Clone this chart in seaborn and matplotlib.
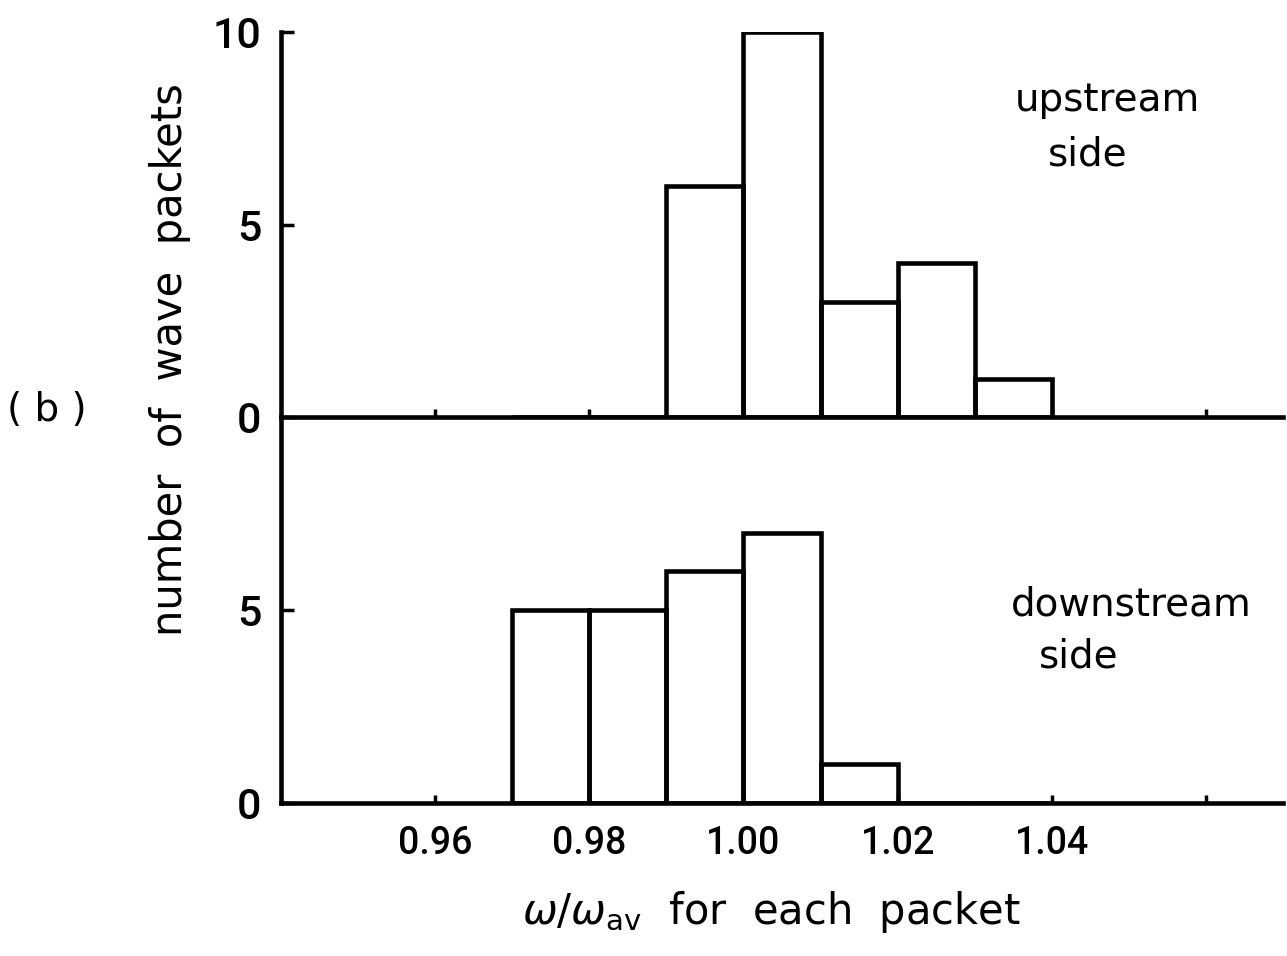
import numpy as np
import seaborn as sns
import matplotlib
matplotlib.use('Agg')
from matplotlib import pyplot as plt

# bin edges shared by both histograms (omega / omega_av)
bin_edges = [0.97, 0.98, 0.99, 1.00, 1.01, 1.02, 1.03, 1.04]
bin_centers = [0.975, 0.985, 0.995, 1.005, 1.015, 1.025, 1.035]

# number of wave packets per bin
upstream_counts = [0, 0, 6, 10, 3, 4, 1]
downstream_counts = [5, 5, 6, 7, 1, 0, 0]

x_ticks = [0.96, 0.98, 1.00, 1.02, 1.04, 1.06]
x_tick_labels = ['0.96', '0.98', '1.00', '1.02', '1.04', '']

sns.set_style('ticks')
plt.rcParams['font.family'] = ['DejaVu Sans']
plt.rcParams['mathtext.fontset'] = 'dejavusans'
plt.rcParams['text.color'] = 'black'
plt.rcParams['xtick.color'] = 'black'
plt.rcParams['ytick.color'] = 'black'
plt.rcParams['xtick.labelcolor'] = 'black'
plt.rcParams['ytick.labelcolor'] = 'black'

fig = plt.figure(figsize=(12.87, 9.56), dpi=100)
ax_up = fig.add_axes([0.2183, 0.5638, 0.7787, 0.4027])
ax_down = fig.add_axes([0.2183, 0.1600, 0.7787, 0.4038])

lw = 3.3
for ax, counts in [(ax_up, upstream_counts), (ax_down, downstream_counts)]:
    sns.histplot(x=bin_centers, weights=counts, bins=bin_edges, ax=ax,
                 fill=False, color='black', linewidth=lw, element='bars')
    ax.set_xlim(0.94, 1.07)
    ax.set_ylim(0, 10)
    ax.set_xticks(x_ticks)
    ax.set_ylabel('')
    ax.set_xlabel('')
    for side in ['top', 'right']:
        ax.spines[side].set_visible(False)
    for side in ['left', 'bottom']:
        ax.spines[side].set_linewidth(lw)
        ax.spines[side].set_color('black')
    ax.tick_params(axis='y', direction='in', length=9, width=2.5, pad=14,
                   labelsize=31, labelfontfamily='Roboto')
    ax.tick_params(axis='x', direction='in', length=6, width=2.5, pad=16,
                   labelsize=27, labelfontfamily='Roboto')
    for lab in ax.get_xticklabels() + ax.get_yticklabels():
        lab.set_fontweight('medium')
    ax.patch.set_alpha(0)

ax_up.set_yticks([0, 5, 10])
ax_up.set_xticklabels([])
ax_down.set_yticks([0, 5])
ax_down.set_xticklabels(x_tick_labels, fontweight='medium')
for lab in ax_up.get_yticklabels() + ax_down.get_yticklabels():
    lab.set_fontweight('medium')

fig.text(170 / 1287, 1 - 360 / 956, 'number  of  wave  packets', rotation=90,
         ha='center', va='center', fontsize=30)
fig.text(771 / 1287, 1 - 912 / 956, r'$\omega/\omega_{\rm av}$  for  each  packet',
         ha='center', va='center', fontsize=30)
fig.text(47 / 1287, 1 - 410 / 956, '( b )', ha='center', va='center', fontsize=28)

fig.text(1107 / 1287, 1 - 100 / 956, 'upstream', ha='center', va='center', fontsize=28)
fig.text(1088 / 1287, 1 - 155 / 956, 'side', ha='center', va='center', fontsize=28)
fig.text(1131 / 1287, 1 - 604 / 956, 'downstream', ha='center', va='center', fontsize=28)
fig.text(1079 / 1287, 1 - 657 / 956, 'side', ha='center', va='center', fontsize=28)

fig.savefig('out.png', dpi=100, facecolor='white')
